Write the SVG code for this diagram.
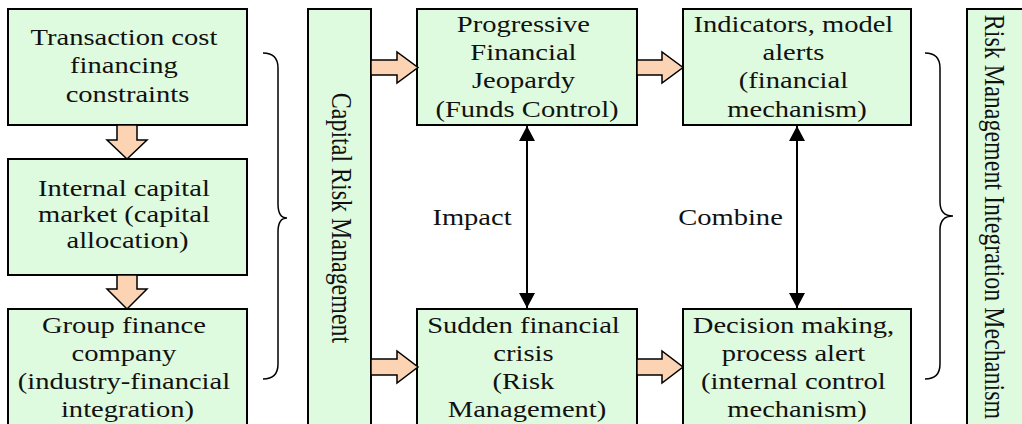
<svg xmlns="http://www.w3.org/2000/svg" width="1022" height="424" viewBox="0 0 1022 424">
  <style>
    .box { fill: #dffbdf; stroke: #000; stroke-width: 2; }
    .blk { fill: #fcd4b4; stroke: #000; stroke-width: 1.5; stroke-linejoin: miter; }
    .brace { fill: none; stroke: #000; stroke-width: 1.5; }
    .link { stroke: #000; stroke-width: 2; fill: none; }
    text { font-family: "Liberation Serif", "Times New Roman", serif; font-size: 24px; fill: #111; text-anchor: middle; }
  </style>
  <defs>
    <marker id="tip" viewBox="0 0 16 16" refX="15" refY="8" markerWidth="16" markerHeight="16" markerUnits="userSpaceOnUse" orient="auto-start-reverse">
      <path d="M0,0 L15,8 L0,16 Z" fill="#000"/>
    </marker>
  </defs>

  <!-- left column -->
  <g id="n-transaction">
    <rect class="box" x="8" y="9" width="239" height="116"/>
    <text transform="translate(127.5 0) scale(1.19 1)">
      <tspan x="0" y="45">Transaction cost</tspan>
      <tspan x="0" y="73.5">financing</tspan>
      <tspan x="0" y="102">constraints</tspan>
    </text>
  </g>
  <g id="n-internal">
    <rect class="box" x="8" y="159" width="239" height="116"/>
    <text transform="translate(127.5 0) scale(1.19 1)">
      <tspan x="0" y="196">Internal capital</tspan>
      <tspan x="0" y="222.5">market (capital</tspan>
      <tspan x="0" y="248">allocation)</tspan>
    </text>
  </g>
  <g id="n-group">
    <rect class="box" x="8" y="309" width="239" height="130"/>
    <text transform="translate(127.5 0) scale(1.19 1)">
      <tspan x="0" y="333">Group finance</tspan>
      <tspan x="0" y="361.5">company</tspan>
      <tspan x="0" y="389.5">(industry-financial</tspan>
      <tspan x="0" y="417">integration)</tspan>
    </text>
  </g>

  <!-- vertical bars -->
  <g id="n-capital-risk">
    <rect class="box" x="308" y="9" width="63" height="430"/>
    <text transform="translate(332 218) scale(1.19 1) rotate(90)" x="0" y="0">Capital Risk Management</text>
  </g>
  <g id="n-integration">
    <rect class="box" x="967" y="9" width="70" height="430"/>
    <text transform="translate(985 217) scale(1.19 1) rotate(90)" x="0" y="0">Risk Management Integration Mechanism</text>
  </g>

  <!-- middle / right columns -->
  <g id="n-progressive">
    <rect class="box" x="417" y="9" width="220" height="116"/>
    <text transform="translate(527 0) scale(1.19 1)">
      <tspan x="0" y="32">Progressive</tspan>
      <tspan x="0" y="60">Financial</tspan>
      <tspan x="0" y="88.5">Jeopardy</tspan>
      <tspan x="0" y="117">(Funds Control)</tspan>
    </text>
  </g>
  <g id="n-indicators">
    <rect class="box" x="683" y="9" width="228" height="116"/>
    <text transform="translate(797 0) scale(1.19 1)">
      <tspan x="0" y="32">Indicators, model</tspan>
      <tspan x="0" y="60">alerts</tspan>
      <tspan x="0" y="88.5">(financial</tspan>
      <tspan x="0" y="117">mechanism)</tspan>
    </text>
  </g>
  <g id="n-sudden">
    <rect class="box" x="417" y="309" width="220" height="130"/>
    <text transform="translate(527 0) scale(1.19 1)">
      <tspan x="0" y="333">Sudden financial</tspan>
      <tspan x="0" y="361.5">crisis</tspan>
      <tspan x="0" y="389.5">(Risk</tspan>
      <tspan x="0" y="417">Management)</tspan>
    </text>
  </g>
  <g id="n-decision">
    <rect class="box" x="683" y="309" width="228" height="130"/>
    <text transform="translate(797 0) scale(1.19 1)">
      <tspan x="0" y="333">Decision making,</tspan>
      <tspan x="0" y="361.5">process alert</tspan>
      <tspan x="0" y="389.5">(internal control</tspan>
      <tspan x="0" y="417">mechanism)</tspan>
    </text>
  </g>

  <!-- connectors -->
  <g id="connectors">
    <!-- block arrows down the left column -->
    <path class="blk" d="M117,125 L137,125 L137,140 L147,140 L127,159 L107,140 L117,140 Z"/>
    <path class="blk" d="M117,275 L137,275 L137,289 L147,289 L127,309 L107,289 L117,289 Z"/>
    <!-- block arrows to the right -->
    <path class="blk" d="M371,60 L397,60 L397,52 L418,67.5 L397,83 L397,75 L371,75 Z"/>
    <path class="blk" d="M371,359 L397,359 L397,351 L418,367 L397,383 L397,375 L371,375 Z"/>
    <path class="blk" d="M637,60 L662,60 L662,52 L683,67.5 L662,83 L662,75 L637,75 Z"/>
    <path class="blk" d="M637,359 L662,359 L662,351 L683,367 L662,383 L662,375 L637,375 Z"/>

    <!-- two-way links -->
    <line class="link" x1="527" y1="126" x2="527" y2="308" marker-start="url(#tip)" marker-end="url(#tip)"/>
    <line class="link" x1="797" y1="126" x2="797" y2="308" marker-start="url(#tip)" marker-end="url(#tip)"/>
    <text x="472" y="225" transform="translate(472 0) scale(1.19 1) translate(-472 0)">Impact</text>
    <text x="730.5" y="225" transform="translate(730.5 0) scale(1.19 1) translate(-730.5 0)">Combine</text>

    <!-- braces -->
    <path class="brace" d="M263,53 Q278,53 278,68 L278,204 Q278,218 287,218 Q278,218 278,232 L278,364 Q278,379 263,379"/>
    <path class="brace" d="M925,53 Q940,53 940,68 L940,202 Q940,216 953,216 Q940,216 940,230 L940,364 Q940,379 925,379"/>
  </g>
</svg>
